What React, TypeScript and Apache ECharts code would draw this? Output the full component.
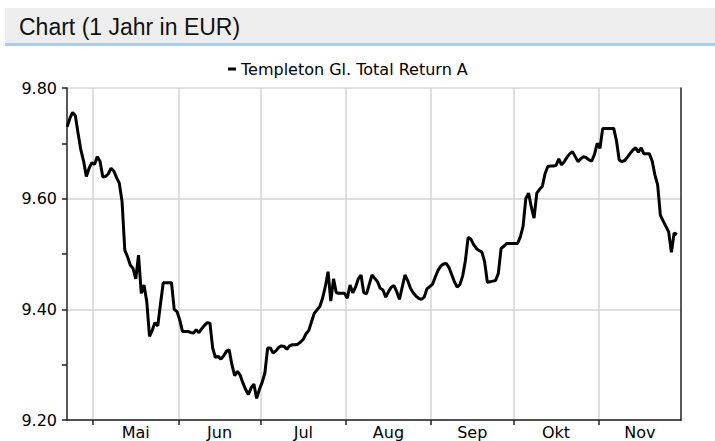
import React, { useEffect, useRef } from 'react';
import * as echarts from 'echarts';

const TITLE = 'Chart (1 Jahr in EUR)';
const SERIES_NAME = 'Templeton Gl. Total Return A';

// Daily closing prices, starting 21 April, one value per day
const START_DATE = '2010-04-21';
const aprValues = [9.730, 9.745, 9.756, 9.750, 9.718, 9.688, 9.668, 9.640, 9.655, 9.665];
const mayValues = [9.662, 9.676, 9.667, 9.639, 9.640, 9.645, 9.655, 9.650, 9.638, 9.628, 9.595, 9.507, 9.495, 9.480, 9.474, 9.455, 9.498, 9.429, 9.444, 9.414, 9.351, 9.362, 9.376, 9.370, 9.410, 9.448, 9.448, 9.448, 9.448, 9.400, 9.396];
const junValues = [9.381, 9.360, 9.360, 9.360, 9.358, 9.357, 9.363, 9.358, 9.365, 9.371, 9.376, 9.375, 9.330, 9.313, 9.315, 9.310, 9.316, 9.324, 9.327, 9.300, 9.280, 9.288, 9.281, 9.267, 9.255, 9.246, 9.258, 9.265, 9.239, 9.255];
const julValues = [9.268, 9.285, 9.330, 9.330, 9.321, 9.325, 9.331, 9.334, 9.333, 9.328, 9.334, 9.336, 9.336, 9.337, 9.341, 9.346, 9.356, 9.362, 9.378, 9.393, 9.399, 9.405, 9.420, 9.441, 9.468, 9.415, 9.455, 9.430, 9.429, 9.429, 9.429];
const augValues = [9.420, 9.444, 9.430, 9.440, 9.455, 9.462, 9.430, 9.428, 9.445, 9.462, 9.456, 9.450, 9.438, 9.435, 9.422, 9.432, 9.440, 9.443, 9.432, 9.418, 9.440, 9.462, 9.452, 9.438, 9.430, 9.424, 9.420, 9.418, 9.422, 9.437, 9.441];
const sepValues = [9.445, 9.458, 9.470, 9.478, 9.482, 9.483, 9.476, 9.463, 9.450, 9.440, 9.445, 9.460, 9.488, 9.530, 9.527, 9.517, 9.510, 9.506, 9.504, 9.486, 9.449, 9.450, 9.451, 9.452, 9.465, 9.510, 9.514, 9.519, 9.519, 9.519];
const octValues = [9.519, 9.519, 9.531, 9.550, 9.600, 9.610, 9.585, 9.565, 9.610, 9.617, 9.622, 9.645, 9.658, 9.659, 9.659, 9.660, 9.672, 9.661, 9.667, 9.675, 9.681, 9.685, 9.676, 9.667, 9.672, 9.676, 9.674, 9.670, 9.668, 9.680, 9.700];
const novValues = [9.691, 9.727, 9.727, 9.727, 9.727, 9.727, 9.705, 9.670, 9.667, 9.669, 9.675, 9.682, 9.688, 9.692, 9.684, 9.692, 9.681, 9.681, 9.681, 9.668, 9.643, 9.625, 9.570, 9.560, 9.550, 9.540, 9.503, 9.538, 9.535];

const monthStarts = ['2010-05-01', '2010-06-01', '2010-07-01', '2010-08-01', '2010-09-01', '2010-10-01', '2010-11-01', '2010-12-01'];
const monthLabels = ['Mai', 'Jun', 'Jul', 'Aug', 'Sep', 'Okt', 'Nov'];
const axisStart = '2010-04-21T11:00:00Z';
const axisEnd = '2010-12-01T00:00:00Z';

const yMin = 9.2;
const yMax = 9.8;
const yInterval = 0.2;

const DAY = 86400000;
const utc = (s: string) => Date.parse(s.length === 10 ? s + 'T00:00:00Z' : s);

export default function App() {
  const ref = useRef<HTMLDivElement>(null);
  useEffect(() => {
    if (!ref.current) return;
    const chart = echarts.init(ref.current, undefined, { renderer: 'svg' });
    const allValues = [...aprValues, ...mayValues, ...junValues, ...julValues, ...augValues, ...sepValues, ...octValues, ...novValues];
    const start = utc(START_DATE) + DAY / 2;
    const data = allValues.map((v, i) => [start + i * DAY, v]);
    const starts = monthStarts.map(utc);
    const tickVals = starts.slice(0, starts.length - 1);
    const labelVals = monthLabels.map((_, i) => (starts[i] + starts[i + 1]) / 2);
    const labelMap = new Map<number, string>();
    labelVals.forEach((v, i) => labelMap.set(v, monthLabels[i]));

    const axisFont = 'DejaVu Sans';
    chart.setOption({
      animation: false,
      backgroundColor: '#ffffff',
      graphic: [
        { type: 'rect', shape: { x: 5, y: 8, width: 710, height: 35 }, style: { fill: '#eeeeee' }, silent: true },
        { type: 'rect', shape: { x: 5, y: 43, width: 710, height: 3 }, style: { fill: '#a3cdf2' }, silent: true },
        {
          type: 'text', x: 19, y: 27,
          style: { text: TITLE, fill: '#111111', font: '23px "Liberation Sans", Arial, sans-serif', textVerticalAlign: 'middle', verticalAlign: 'middle' },
          silent: true,
        },
      ],
      legend: {
        left: 223, top: 56,
        icon: 'rect', itemWidth: 8, itemHeight: 3,
        textStyle: { fontFamily: axisFont, fontSize: 16, color: '#000' },
        data: [SERIES_NAME],
      },
      grid: { left: 67, right: 34, top: 88, bottom: 21, containLabel: false, outerBoundsMode: 'none' },
      xAxis: {
        type: 'value',
        min: utc(axisStart),
        max: utc(axisEnd),
        axisLine: { show: true, lineStyle: { color: '#222', width: 1.5 } },
        axisTick: { show: true, customValues: tickVals, length: 5, lineStyle: { color: '#222', width: 1.5 } },
        axisLabel: {
          show: true,
          customValues: labelVals,
          formatter: (v: number) => labelMap.get(v) ?? '',
          margin: 4,
          fontFamily: axisFont,
          fontSize: 16,
          color: '#000',
          verticalAlign: 'top',
        },
        splitLine: { show: true, lineStyle: { color: '#d4d4d4', width: 1.5 } },
      },
      yAxis: [
        {
          type: 'value',
          min: yMin, max: yMax, interval: yInterval,
          axisLine: { show: true, lineStyle: { color: '#222', width: 1.5 } },
          axisTick: { show: true, length: 5, lineStyle: { color: '#222', width: 1.5 } },
          minorTick: { show: true, splitNumber: 2, length: 5, lineStyle: { color: '#222', width: 1.5 } },
          axisLabel: {
            formatter: (v: number) => v.toFixed(2),
            margin: 10,
            fontFamily: axisFont,
            fontSize: 16,
            color: '#000',
          },
          splitLine: { show: true, lineStyle: { color: '#d4d4d4', width: 1.5 } },
        },
        {
          type: 'value', position: 'right',
          min: yMin, max: yMax, interval: yInterval,
          axisLine: { show: true, lineStyle: { color: '#222', width: 1.5 } },
          axisTick: { show: false },
          axisLabel: { show: false },
          splitLine: { show: false },
        },
      ],
      series: [
        {
          name: SERIES_NAME,
          type: 'line',
          data,
          showSymbol: false,
          symbol: 'none',
          lineStyle: { color: '#000', width: 3 },
          itemStyle: { color: '#000' },
        },
      ],
    });
    return () => chart.dispose();
  }, []);
  return <div ref={ref} style={{ position: 'fixed', left: 0, top: 0, width: 715, height: 441 }} />;
}
